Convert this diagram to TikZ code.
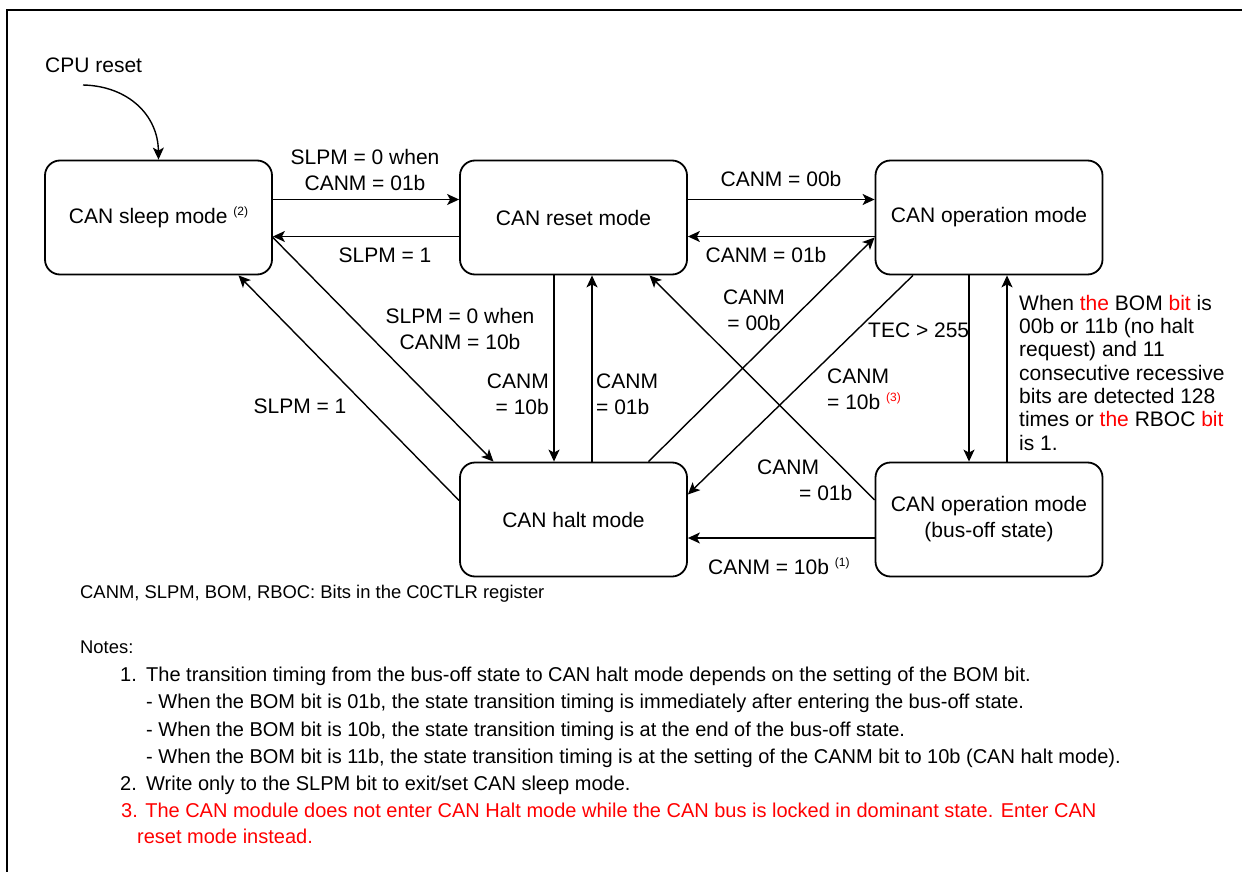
\documentclass[tikz,border=0pt]{standalone}
\usepackage{fontspec}
\setmainfont{Liberation Sans}
\usetikzlibrary{arrows.meta,calc}
\newcommand\supnote[1]{\raisebox{8pt}{\fontsize{12}{12}\selectfont #1}}
\begin{document}
\begin{tikzpicture}[x=1pt,y=-1pt,
  state/.style={draw,line width=1.8pt,rounded corners=15pt,minimum width=227pt,minimum height=114pt,inner sep=0pt,align=center,font=\fontsize{21}{26}\selectfont},
  conn/.style={line width=1.4pt,-{Stealth[length=12pt,width=11pt,inset=3pt]}},
  lbl/.style={inner sep=0pt,anchor=base,font=\fontsize{21}{26}\selectfont},
  rblock/.style={inner sep=0pt,anchor=base west,align=left,font=\fontsize{21}{23.3}\selectfont},
  note/.style={inner sep=0pt,anchor=base west,font=\fontsize{20}{22}\selectfont},
]
\useasboundingbox (0,0) rectangle (1242,872);
\draw[line width=2.5pt] (7,872) -- (7,10) -- (1242,10);

% states
\node[state] (sleep) at (158.5,217.5) {CAN sleep mode \supnote{(2)}};
\node[state] (reset) at (573.5,217.5) {CAN reset mode};
\node[state] (op) at (989,217.5) {CAN operation mode};
\node[state] (halt) at (573.5,519.5) {CAN halt mode};
\node[state] (busoff) at (989,519.5) {CAN operation mode\\(bus-off state)};

% CPU reset
\node[lbl,anchor=base west] (cpu) at (45,73) {CPU reset};
\coordinate (cpuStart) at (83,85);
\draw[conn] (cpuStart) .. controls (128,86) and (158,115) .. (sleep.north);

% horizontal connectors
\draw[conn] ($(sleep.east)+(0,-18)$) -- ($(reset.west)+(0,-18)$);
\draw[conn] ($(reset.west)+(0,19)$) -- ($(sleep.east)+(0,19)$);
\draw[conn] ($(reset.east)+(0,-18)$) -- ($(op.west)+(0,-18)$);
\draw[conn] ($(op.west)+(0,19)$) -- ($(reset.east)+(0,19)$);
\draw[conn] ($(busoff.west)+(0,18.5)$) -- ($(halt.east)+(0,18.5)$);

% vertical connectors
\draw[conn] ($(reset.south)+(-19.5,0)$) -- ($(halt.north)+(-19.5,0)$);
\draw[conn] ($(halt.north)+(18.5,0)$) -- ($(reset.south)+(18.5,0)$);
\draw[conn] ($(op.south)+(-20,0)$) -- ($(busoff.north)+(-20,0)$);
\draw[conn] ($(busoff.north)+(18,0)$) -- ($(op.south)+(18,0)$);

% diagonal connectors
\draw[conn] ($(sleep.east)+(0,20)$) -- ($(halt.north)+(-80,0)$);
\draw[conn] ($(halt.west)+(0,-19)$) -- ($(sleep.south)+(80,0)$);
\draw[conn] ($(halt.north)+(75,0)$) -- ($(op.west)+(0,20)$);
\draw[conn] ($(op.south)+(-76,0)$) -- ($(halt.east)+(0,-25)$);
\draw[conn] ($(busoff.west)+(0,-19.5)$) -- ($(reset.south)+(76,0)$);

% labels (base anchor = baseline of the last line)
\node[lbl,align=center] (l1) at (365,190) {SLPM = 0 when\\CANM = 01b};
\node[lbl] (l2) at (385,262) {SLPM = 1};
\node[lbl] (l3) at (781,186.5) {CANM = 00b};
\node[lbl] (l4) at (766,262) {CANM = 01b};
\node[lbl,align=center] (l5) at (460,349.5) {SLPM = 0 when\\CANM = 10b};
\node[lbl] (l5b) at (300,413) {SLPM = 1};
\node[lbl,align=right,anchor=base east] (l6) at (549,414) {CANM\\= 10b};
\node[lbl,align=left,anchor=base west] (l7) at (596,414) {CANM\\= 01b};
\node[lbl,align=center] (l8) at (754,330.5) {CANM\\= 00b};
\node[lbl,anchor=base west] (l9) at (868,337) {TEC > 255};
\node[lbl,align=left,anchor=base west] (l10) at (827,409) {CANM\\= 10b \textcolor{red}{\supnote{(3)}}};
\node[lbl,align=left,anchor=base west] (l11) at (757,500.5) {CANM\\\hspace*{42pt}= 01b};
\node[lbl,anchor=base west] (l12) at (708,574) {CANM = 10b \supnote{(1)}};
\node[rblock] (l13) at (1019,450) {When \textcolor{red}{the} BOM \textcolor{red}{bit} is\\00b or 11b (no halt\\request) and 11\\consecutive recessive\\bits are detected 128\\times or \textcolor{red}{the} RBOC \textcolor{red}{bit}\\is 1.};

% notes
\node[note,font=\fontsize{18.4}{22}\selectfont] (n0) at (80,598) {CANM, SLPM, BOM, RBOC: Bits in the C0CTLR register};
\node[note,font=\fontsize{18.4}{22}\selectfont] (n1) at (80,653) {Notes:};
\node[note] (n2a) at (120,681.5) {1.};
\node[note] (n2) at (146,681.5) {The transition timing from the bus-off state to CAN halt mode depends on the setting of the BOM bit.};
\node[note] (n3) at (146,708) {- When the BOM bit is 01b, the state transition timing is immediately after entering the bus-off state.};
\node[note] (n4) at (146,736) {- When the BOM bit is 10b, the state transition timing is at the end of the bus-off state.};
\node[note] (n5) at (146,763) {- When the BOM bit is 11b, the state transition timing is at the setting of the CANM bit to 10b (CAN halt mode).};
\node[note] (n6a) at (120,790.5) {2.};
\node[note] (n6) at (146,790.5) {Write only to the SLPM bit to exit/set CAN sleep mode.};
\node[note,text=red] (n7) at (121,817) {3. The CAN module does not enter CAN Halt mode while the CAN bus is locked in dominant state. Enter CAN};
\node[note,text=red] (n8) at (137,843) {reset mode instead.};
\end{tikzpicture}
\end{document}
